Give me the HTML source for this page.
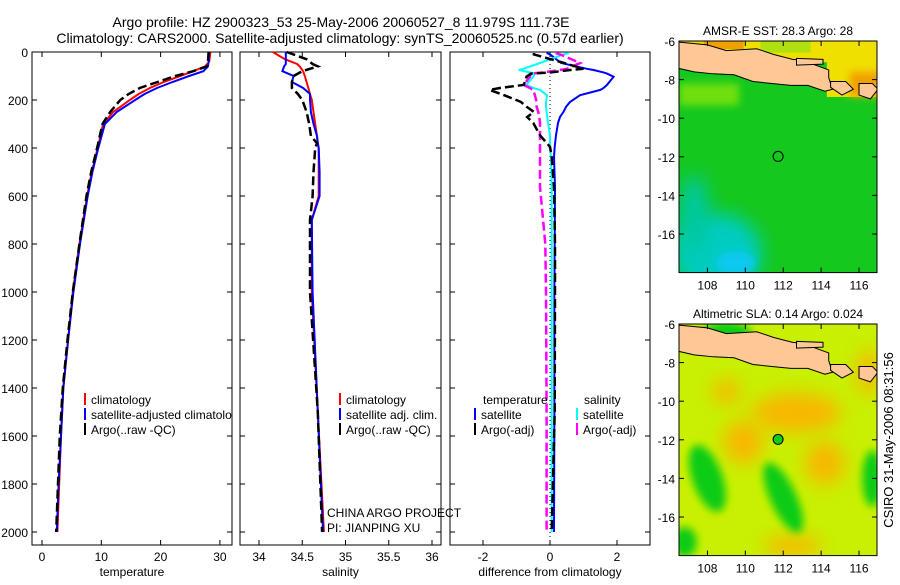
<!DOCTYPE html>
<html><head><meta charset="utf-8"><style>
body{margin:0;background:#fff}
svg text{font-family:"Liberation Sans",sans-serif;fill:#000}
</style></head><body>
<svg id="c" width="900" height="580" viewBox="0 0 900 580" xmlns="http://www.w3.org/2000/svg">
<defs>
<filter id="bl" x="-50%" y="-50%" width="200%" height="200%"><feGaussianBlur stdDeviation="9"/></filter>
<filter id="bl2" x="-50%" y="-50%" width="200%" height="200%"><feGaussianBlur stdDeviation="4"/></filter>
<clipPath id="m1"><rect x="679" y="41" width="198" height="232"/></clipPath>
<clipPath id="m2"><rect x="679" y="324" width="198" height="231"/></clipPath>
<clipPath id="p1"><rect x="32" y="52" width="200" height="493"/></clipPath>
</defs>
<text x="341" y="27" font-size="14" text-anchor="middle">Argo profile: HZ 2900323_53 25-May-2006 20060527_8 11.979S 111.73E</text>
<text x="340" y="43" font-size="14" text-anchor="middle">Climatology: CARS2000. Satellite-adjusted climatology: synTS_20060525.nc (0.57d earlier)</text>
<g id="g"></g>
<text transform="translate(893,440) rotate(-90)" font-size="13" text-anchor="middle">CSIRO 31-May-2006 08:31:56</text>
</svg>
<script>
// ---- data ----
const tDepth=[0,40,60,80,100,125,150,175,200,250,300,400,500,600,800,1000,1200,1400,1600,1800,2000];
const tClim=[28.4,28.2,27.5,25.5,23.3,20.5,18.2,16.3,14.8,12,10.3,9.4,8.4,7.6,6.3,5.2,4.4,3.6,3.2,2.9,2.6];
const tSat=[28.2,28.1,28.0,27.2,24.8,22,19.4,17.3,15.7,12.6,10.6,9.5,8.5,7.7,6.4,5.3,4.4,3.6,3.2,2.8,2.5];
const tArgo=[28.1,28.0,27.8,25.5,22.5,19.5,16.5,14.6,13.2,11.5,10.2,9.3,8.3,7.5,6.3,5.2,4.3,3.5,3.0,2.7,2.4];
const sDepth=[0,30,50,60,80,100,125,150,175,200,250,300,350,380,400,500,600,700,1000,1500,2000];
const sClim=[34.16,34.3,34.44,34.47,34.51,34.53,34.55,34.57,34.59,34.61,34.63,34.65,34.67,34.68,34.69,34.69,34.69,34.61,34.61,34.68,34.75];
const sSat=[34.31,34.31,34.31,34.29,34.27,34.4,34.38,34.51,34.59,34.59,34.6,34.63,34.67,34.68,34.69,34.7,34.7,34.61,34.62,34.68,34.74];
const sArgo=[34.32,34.55,34.62,34.68,34.5,34.4,34.38,34.38,34.45,34.5,34.55,34.58,34.6,34.67,34.65,34.63,34.62,34.59,34.59,34.68,34.73];
const dDepth=[4,10,46,70,75,85,90,103,137,150,158,180,208,228,250,271,296,347,395,437,562,800,1000,1500,2000];
const dTempSat=[-0.1,0.0,0.33,1.1,1.3,1.6,1.7,1.9,1.7,1.6,1.5,0.9,0.6,0.48,0.4,0.3,0.24,0.18,0.14,0.12,0.15,0.14,0.13,0.13,0.12];
const dTempArgo=[-0.48,-0.48,0.42,1.0,0.6,0.03,-0.57,-0.7,-0.78,-1.5,-1.8,-1.37,-0.87,-0.7,-0.48,-0.68,-0.5,-0.3,0.0,0.05,0.12,0.15,0.15,0.14,0.05];
const dSalSat=[0.56,0.4,-0.3,-0.8,-0.93,-0.6,-0.45,-0.5,-0.7,-0.5,-0.3,-0.09,-0.12,-0.12,-0.1,-0.08,-0.06,0,0,0.03,0.05,0.05,0.05,0.05,0.05];
const dSalArgo=[0.17,0.3,0.9,0.5,0.3,-0.2,-0.57,-0.6,-0.78,-0.6,-0.5,-0.45,-0.4,-0.4,-0.35,-0.32,-0.3,-0.3,-0.3,-0.3,-0.3,-0.14,-0.12,-0.1,-0.1];
const depthTicks=[0,200,400,600,800,1000,1200,1400,1600,1800,2000];
const tTicks=[0,10,20,30], sTicks=[34,34.5,35,35.5,36], dTicks=[-2,0,2];
const latTicks=[-6,-8,-10,-12,-14,-16], lonTicks=[108,110,112,114,116];

const NS='http://www.w3.org/2000/svg', G=document.getElementById('g');
function mk(tag,at,par){const e=document.createElementNS(NS,tag);for(const k in at)e.setAttribute(k,at[k]);(par||G).appendChild(e);return e;}
const yD=d=>52+0.24*d;
const xT=v=>42+5.93*v, xS=v=>259+86.5*(v-34), xDf=v=>550+33.5*v;
function line(xf,xs,ds,col,w,dash,name){
  const p=xs.map((v,i)=>xf(v).toFixed(1)+','+yD(ds[i]).toFixed(1)).join(' ');
  const e=mk('polyline',{points:p,fill:'none',stroke:col,'stroke-width':w});
  if(dash)e.setAttribute('stroke-dasharray',dash);
  
  
}
function panel(x0,x1,xf,ticks,label,name,showY){
  const f=mk('rect',{x:x0,y:52,width:x1-x0,height:493,fill:'none',stroke:'#000','stroke-width':1});
  
  
  depthTicks.forEach(d=>{
    mk('line',{x1:x0,x2:x0+5,y1:yD(d),y2:yD(d),stroke:'#000'});
    mk('line',{x1:x1,x2:x1-5,y1:yD(d),y2:yD(d),stroke:'#000'});
    if(showY){const t=mk('text',{x:x0-4,y:yD(d)+5,'font-size':12,'text-anchor':'end'});t.textContent=d;
      
      }
  });
  ticks.forEach(v=>{
    mk('line',{x1:xf(v),x2:xf(v),y1:545,y2:540,stroke:'#000'});
    mk('line',{x1:xf(v),x2:xf(v),y1:52,y2:57,stroke:'#000'});
    const t=mk('text',{x:xf(v),y:561,'font-size':12,'text-anchor':'middle'});t.textContent=v;
    
    
  });
  const l=mk('text',{x:(x0+x1)/2,y:576,'font-size':12,'text-anchor':'middle'});l.textContent=label;
  
  
}
panel(32,232,xT,tTicks,'temperature','temperature',true);
panel(240,441,xS,sTicks,'salinity','salinity',false);
panel(450,650,xDf,dTicks,'difference from climatology','difference',false);
mk('line',{x1:xDf(0),x2:xDf(0),y1:52,y2:545,stroke:'#000','stroke-dasharray':'1,3'});
line(xT,tClim,tDepth,'#f00',2,null,'temp-climatology-line');
line(xT,tSat,tDepth,'#00f',2,null,'temp-satellite-line');
line(xT,tArgo,tDepth,'#000',2.5,'9,4','temp-argo-line');
line(xS,sClim,sDepth,'#f00',2,null,'sal-climatology-line');
line(xS,sSat,sDepth,'#00f',2,null,'sal-satellite-line');
line(xS,sArgo,sDepth,'#000',2.5,'9,4','sal-argo-line');
line(xDf,dTempSat,dDepth,'#00f',2,null,'diff-temp-satellite-line');
line(xDf,dSalSat,dDepth,'#0ff',2,null,'diff-sal-satellite-line');
line(xDf,dSalArgo,dDepth,'#f0f',2.5,'9,4','diff-sal-argo-line');
line(xDf,dTempArgo,dDepth,'#000',2.5,'9,4','diff-temp-argo-line');
function leg(x,y,col,txt,clip){
  if(col)mk('rect',{x:x,y:y-11,width:2,height:12,fill:col});
  const t=mk('text',{x:x+(col?7:0),y:y,'font-size':12});t.textContent=txt;
  if(clip)t.setAttribute('clip-path','url(#'+clip+')');
  
  
}
leg(84,404,'#f00','climatology');leg(84,419,'#00f','satellite-adjusted climatology','p1');leg(84,434,'#000','Argo(..raw -QC)');
leg(339,404,'#f00','climatology');leg(339,419,'#00f','satellite adj. clim.');leg(339,434,'#000','Argo(..raw -QC)');
leg(483,404,null,'temperature');leg(474,419,'#00f','satellite');leg(474,434,'#000','Argo(-adj)');
leg(584,404,null,'salinity');leg(576,419,'#0ff','satellite');leg(576,434,'#f0f','Argo(-adj)');
const c1=mk('text',{x:327,y:517,'font-size':12});c1.textContent='CHINA ARGO PROJECT';

const c2=mk('text',{x:327,y:532,'font-size':12});c2.textContent='PI: JIANPING XU';


function map(top,clip,title,name,fill,dotFill){
  const xL=v=>679+18.95*(v-106.5), yL=v=>top+19.3*(-6-v);
  const g=mk('g',{'clip-path':'url(#'+clip+')'});
  
  
  fill(g,xL,yL);
  const java=[[106.4,-6.05],[108,-6.2],[109,-6.5],[110.6,-6.4],[111.5,-6.7],[112.5,-6.95],[113,-7.0],[114.4,-7.5],[114.4,-7.9],[114.6,-8.5],[114.2,-8.6],[113.3,-8.3],[112.4,-8.3],[111.4,-8.2],[110.4,-8.1],[109.4,-7.75],[108.3,-7.7],[107.3,-7.6],[106.4,-7.4]];
  const madura=[[112.7,-6.9],[114.1,-6.95],[114.1,-7.2],[112.7,-7.25]];
  const bali=[[114.5,-8.1],[115.3,-8.1],[115.7,-8.5],[115.1,-8.8],[114.5,-8.4]];
  const lombok=[[116.0,-8.2],[116.7,-8.2],[117,-8.5],[116.6,-9.0],[116.0,-8.8]];
  [java,madura,bali,lombok].forEach(pl=>{
    const e=mk('polygon',{points:pl.map(p=>xL(p[0])+','+yL(p[1])).join(' '),fill:'#fdc896',stroke:'#000','stroke-width':1},g);
    
    
  });
  const f=mk('rect',{x:679,y:top,width:198,height:yL(-18)-top,fill:'none',stroke:'#000'});
  
  latTicks.forEach(v=>{
    mk('line',{x1:679,x2:684,y1:yL(v),y2:yL(v),stroke:'#000'});mk('line',{x1:877,x2:872,y1:yL(v),y2:yL(v),stroke:'#000'});
    const t=mk('text',{x:675,y:yL(v)+5,'font-size':12,'text-anchor':'end'});t.textContent=v;
    
  });
  const yb=yL(-18);
  lonTicks.forEach(v=>{
    mk('line',{x1:xL(v),x2:xL(v),y1:yb,y2:yb-5,stroke:'#000'});mk('line',{x1:xL(v),x2:xL(v),y1:top,y2:top+5,stroke:'#000'});
    const t=mk('text',{x:xL(v),y:yb+17,'font-size':12,'text-anchor':'middle'});t.textContent=v;
    
  });
  const tt=mk('text',{x:778,y:top-6,'font-size':12,'text-anchor':'middle'});tt.textContent=title;
  
  const d=mk('circle',{cx:xL(111.73),cy:yL(-11.979),r:5,fill:dotFill,stroke:'#000'});
  
}
map(41,'m1','AMSR-E SST: 28.3 Argo: 28','sst',(g,xL,yL)=>{
  mk('rect',{x:679,y:41,width:198,height:232,fill:'#14c81e'},g);
  mk('ellipse',{cx:xL(108.5),cy:yL(-17),rx:45,ry:40,fill:'#00ccc0',filter:'url(#bl)'},g);
  mk('ellipse',{cx:xL(107.3),cy:yL(-15),rx:15,ry:40,fill:'#00c8a0',filter:'url(#bl)'},g);
  mk('ellipse',{cx:xL(109.5),cy:yL(-17.5),rx:20,ry:12,fill:'#08c8f0',filter:'url(#bl2)'},g);
  mk('rect',{x:679,y:yL(-8.2),width:60,height:22,fill:'#70e010',filter:'url(#bl2)'},g);
  mk('rect',{x:679,y:41,width:198,height:yL(-7.1)-41,fill:'#f0e000'},g);
  mk('rect',{x:xL(114.3),y:41,width:80,height:yL(-8.9)-41,fill:'#f0e000'},g);
  mk('rect',{x:xL(110.8),y:41,width:50,height:yL(-6.6)-41,fill:'#b0e010'},g);
  mk('rect',{x:xL(115.5),y:yL(-7.6),width:40,height:25,fill:'#f0a000',filter:'url(#bl2)'},g);
  mk('rect',{x:xL(107.8),y:41,width:40,height:8,fill:'#f0a000'},g);
},'#14c81e');
map(324,'m2','Altimetric SLA: 0.14 Argo: 0.024','sla',(g,xL,yL)=>{
  mk('rect',{x:679,y:324,width:198,height:231,fill:'#c8f000'},g);
  [[112.7,-10.6,45,20],[109.9,-12.1,20,22],[114.2,-13.2,20,22],[116.5,-8.5,12,22],[109,-9.5,14,12],[112.5,-17.5,30,10]].forEach(e=>
    mk('ellipse',{cx:xL(e[0]),cy:yL(e[1]),rx:e[2],ry:e[3],fill:'#f8b800',filter:'url(#bl)'},g));
  [[108,-14,15,35,-20],[112,-15,13,38,-25],[116.7,-14,10,28,0],[109,-6.5,25,12,0],[106.8,-17.3,12,15,0]].forEach(e=>
    mk('ellipse',{cx:xL(e[0]),cy:yL(e[1]),rx:e[2],ry:e[3],fill:'#10cc18',filter:'url(#bl2)',transform:'rotate('+e[4]+' '+xL(e[0])+' '+yL(e[1])+')'},g));
},'#10cc18');
</script>
</body></html>
